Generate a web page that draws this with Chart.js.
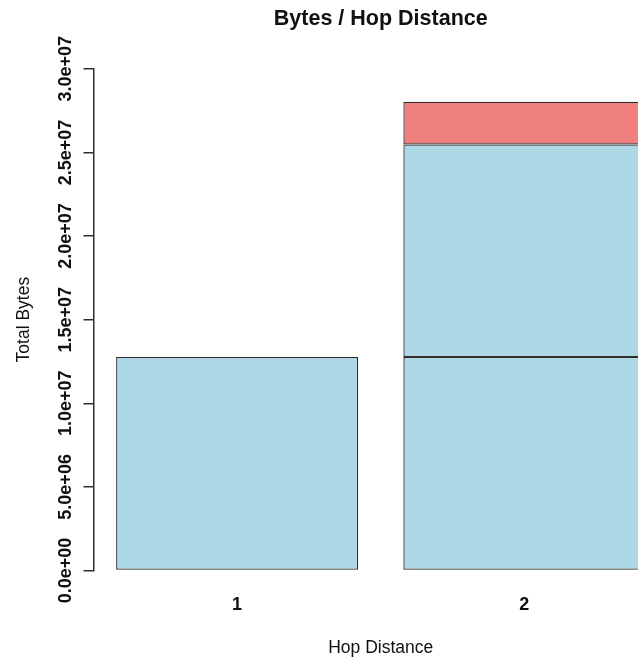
<!DOCTYPE html>
<html>
<head>
<meta charset="utf-8">
<script src="https://cdn.jsdelivr.net/npm/chart.js@4/dist/chart.umd.min.js"></script>
<style>
  html, body { margin: 0; padding: 0; background: #fff; overflow: hidden; }
  #wrap { position: relative; width: 668px; height: 661px; }
</style>
</head>
<body>
<div id="wrap"><canvas id="c" width="668" height="661"></canvas></div>
<script>
// Hop distance categories
const hops = ['1', '2'];
// Stacked byte totals per hop distance (null = no segment)
const bytesSegA = [12.77e6, 12.77e6];
const bytesSegB = [null, 12.70e6];
const bytesSegC = [null, 2.56e6];
// Y axis tick values
const yTicks = [0, 5e6, 1e7, 1.5e7, 2e7, 2.5e7, 3e7];

function sci(v) {
  if (v === 0) return '0.0e+00';
  const e = Math.floor(Math.log10(Math.abs(v)) + 1e-9);
  const m = v / Math.pow(10, e);
  return m.toFixed(1) + 'e' + (e < 0 ? '-' : '+') + String(Math.abs(e)).padStart(2, '0');
}

const FONT = "'Liberation Sans', Arial, Helvetica, sans-serif";
const INK = '#111111';
const EDGE = '#2e2e2e';

const common = { borderColor: EDGE, borderWidth: 1.3, borderSkipped: false,
                 categoryPercentage: 1.0, barPercentage: 0.8425 };

new Chart(document.getElementById('c'), {
  type: 'bar',
  data: {
    labels: hops,
    datasets: [
      Object.assign({ label: 'a', data: bytesSegA, backgroundColor: '#ADD8E6' }, common),
      Object.assign({ label: 'b', data: bytesSegB, backgroundColor: '#ADD8E6' }, common),
      Object.assign({ label: 'c', data: bytesSegC, backgroundColor: '#F08080' }, common)
    ]
  },
  options: {
    responsive: false,
    animation: false,
    layout: { padding: { left: 0, right: 0, top: 0, bottom: 0 } },
    plugins: {
      legend: { display: false },
      tooltip: { enabled: false },
      title: {
        display: true,
        text: 'Bytes / Hop Distance',
        fullSize: false,
        color: INK,
        font: { family: FONT, size: 21.5, weight: 'bold' },
        padding: { top: 6, bottom: 37 }
      }
    },
    scales: {
      x: {
        stacked: true,
        grid: { display: false, drawTicks: true, tickLength: 26 },
        border: { display: false },
        ticks: { color: INK, font: { family: FONT, size: 18, weight: 'bold', lineHeight: 1.0 }, padding: 0 },
        title: { display: true, text: 'Hop Distance', color: INK,
                 font: { family: FONT, size: 17.5 }, padding: { top: 23, bottom: 2.5 } }
      },
      y: {
        stacked: true,
        min: 0,
        max: 3e7,
        afterBuildTicks: (s) => { s.ticks = yTicks.map(v => ({ value: v })); },
        grid: { drawOnChartArea: false, drawTicks: true, tickLength: 10, color: EDGE, lineWidth: 1.5 },
        border: { display: true, color: EDGE, width: 1.5 },
        ticks: {
          color: INK,
          minRotation: 90,
          maxRotation: 90,
          crossAlign: 'center',
          padding: -15.3,
          font: { family: FONT, size: 18, weight: 'bold' },
          callback: (v) => sci(v)
        },
        title: { display: true, text: 'Total Bytes', color: INK,
                 font: { family: FONT, size: 17.5 }, padding: { top: 14, bottom: 57.5 } }
      }
    }
  }
});
</script>
</body>
</html>
